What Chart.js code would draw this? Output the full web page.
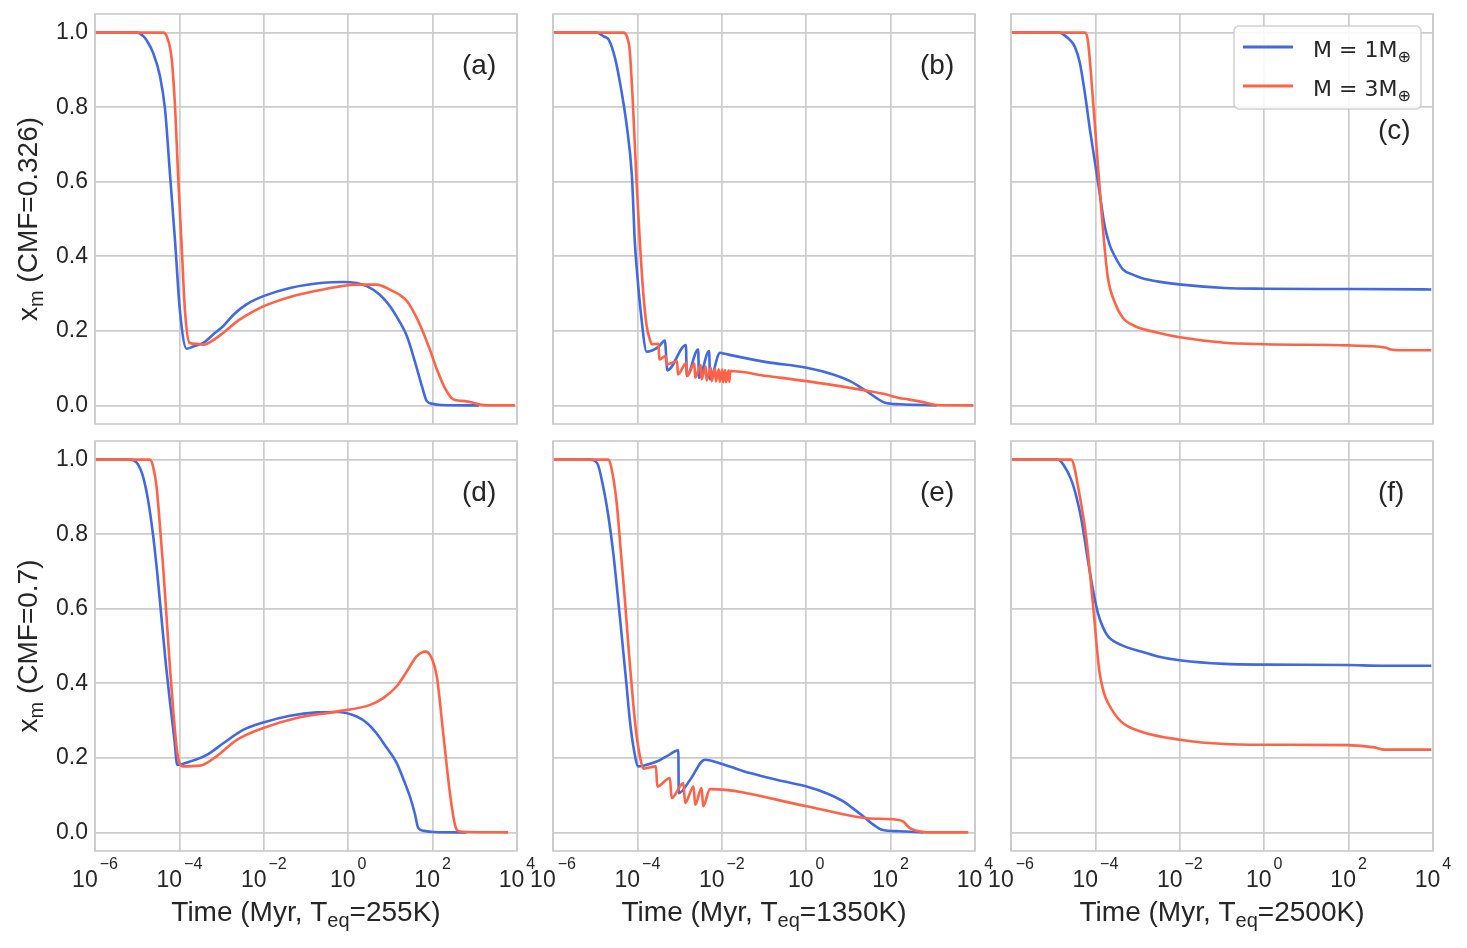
<!DOCTYPE html>
<html>
<head>
<meta charset="utf-8">
<title>Mantle fraction vs time</title>
<script src="https://cdn.jsdelivr.net/npm/chart.js@4.4.1/dist/chart.umd.min.js"></script>
<style>
  body { margin: 0; background: #fff; }
  #fig { position: relative; width: 1467px; height: 948px; overflow: hidden; }
  #fig canvas { position: absolute; }
</style>
</head>
<body>
<div id="fig"></div>
<script>
// Each series: [log10(time / Myr), x_m]
// (a) CMF=0.326, Teq=255K
const a1 = [[-6,1],[-5.0,1],[-4.85,0.99],[-4.78,0.98],[-4.62,0.945],[-4.46,0.883],[-4.34,0.794],[-4.22,0.615],[-4.1,0.436],[-3.99,0.257],[-3.83,0.152],[-3.67,0.158],[-3.43,0.168],[-3.2,0.19],[-2.96,0.213],[-2.7,0.245],[-2.41,0.271],[-2.01,0.293],[-1.38,0.315],[-0.59,0.329],[-0.12,0.331],[0.2,0.328],[0.44,0.32],[0.75,0.297],[0.99,0.266],[1.2,0.228],[1.39,0.186],[1.6,0.11],[1.75,0.05],[1.86,0.012],[2.0,0.004],[2.2,0.001],[3.1,0]];
const a3 = [[-6,1],[-4.38,1],[-4.3,0.99],[-4.18,0.927],[-4.1,0.794],[-4.03,0.615],[-3.95,0.436],[-3.87,0.257],[-3.76,0.168],[-3.6,0.165],[-3.43,0.163],[-3.2,0.175],[-2.96,0.195],[-2.6,0.228],[-2.17,0.257],[-1.8,0.275],[-1.38,0.291],[-0.59,0.311],[0.2,0.324],[0.67,0.324],[1.0,0.31],[1.2,0.298],[1.39,0.28],[1.6,0.24],[1.78,0.195],[1.95,0.145],[2.1,0.097],[2.3,0.045],[2.49,0.016],[2.7,0.012],[2.89,0.009],[3.12,0.002],[3.3,0],[3.95,0]];
// (b) CMF=0.326, Teq=1350K
const b1 = [[-6,1],[-4.96,1],[-4.8,0.99],[-4.68,0.981],[-4.52,0.927],[-4.37,0.838],[-4.25,0.748],[-4.13,0.615],[-4.06,0.436],[-4.0,0.347],[-3.92,0.25],[-3.78,0.144],[-3.5,0.157],[-3.35,0.174],[-3.29,0.094],[-2.85,0.162],[-2.83,0.079],[-2.56,0.150],[-2.54,0.074],[-2.30,0.146],[-2.28,0.07],[-2.04,0.141],[-1.96,0.139],[-0.94,0.116],[0.01,0.101],[0.64,0.083],[1.04,0.065],[1.43,0.038],[1.87,0.007],[2.22,0.003],[3.09,0]];
const b3 = [[-6,1],[-4.33,1],[-4.25,0.99],[-4.18,0.95],[-4.1,0.794],[-4.02,0.6],[-3.94,0.436],[-3.86,0.3],[-3.78,0.213],[-3.7,0.175],[-3.66,0.164],[-3.5,0.165],[-3.48,0.123],[-3.33,0.132],[-3.31,0.11],[-3.06,0.118],[-3.04,0.083],[-2.84,0.114],[-2.82,0.079],[-2.65,0.112],[-2.63,0.074],[-2.5,0.108],[-2.48,0.070],[-2.38,0.104],[-2.36,0.067],[-2.26,0.101],[-2.24,0.065],[-2.16,0.099],[-2.14,0.064],[-2.07,0.097],[-2.05,0.063],[-1.99,0.096],[-1.97,0.062],[-1.92,0.095],[-1.9,0.062],[-1.84,0.094],[-1.82,0.063],[-1.8,0.092],[-0.94,0.079],[0.01,0.065],[1.04,0.047],[1.5,0.038],[1.9,0.029],[2.2,0.02],[2.42,0.016],[2.8,0.008],[3.09,0.001],[3.96,0]];
// (c) CMF=0.326, Teq=2500K
const c1 = [[-6,1],[-4.85,1],[-4.7,0.99],[-4.6,0.98],[-4.49,0.963],[-4.37,0.92],[-4.25,0.838],[-4.13,0.74],[-4.02,0.659],[-3.9,0.57],[-3.78,0.481],[-3.66,0.43],[-3.54,0.40],[-3.35,0.365],[-3.1,0.35],[-2.91,0.342],[-2.5,0.332],[-1.96,0.324],[-0.94,0.315],[0.01,0.313],[2.0,0.312],[3.96,0.311]];
const c3 = [[-6,1],[-4.25,1],[-4.18,0.98],[-4.1,0.883],[-3.98,0.704],[-3.86,0.526],[-3.71,0.347],[-3.54,0.276],[-3.35,0.235],[-3.07,0.213],[-2.52,0.195],[-1.96,0.182],[-0.94,0.168],[0.01,0.164],[1.98,0.161],[2.5,0.159],[2.86,0.155],[3.0,0.15],[3.17,0.148],[3.96,0.148]];
// (d) CMF=0.7, Teq=255K
const d1 = [[-6,1],[-5.17,1],[-5.0,0.99],[-4.86,0.954],[-4.74,0.89],[-4.62,0.794],[-4.52,0.69],[-4.42,0.57],[-4.32,0.45],[-4.22,0.347],[-4.12,0.25],[-4.05,0.181],[-3.75,0.19],[-3.35,0.208],[-2.96,0.239],[-2.49,0.275],[-2.01,0.295],[-1.38,0.313],[-0.75,0.322],[-0.27,0.323],[0.2,0.311],[0.45,0.293],[0.67,0.266],[0.9,0.229],[1.15,0.186],[1.3,0.145],[1.46,0.097],[1.58,0.05],[1.66,0.012],[1.8,0.004],[2.02,0.001],[2.8,0]];
const d3 = [[-6,1],[-4.7,1],[-4.62,0.98],[-4.54,0.927],[-4.46,0.82],[-4.38,0.704],[-4.3,0.57],[-4.22,0.436],[-4.14,0.32],[-4.05,0.213],[-3.92,0.177],[-3.51,0.179],[-3.12,0.204],[-2.64,0.248],[-2.01,0.280],[-1.22,0.307],[-0.27,0.324],[0.52,0.342],[0.83,0.36],[1.15,0.392],[1.39,0.432],[1.62,0.472],[1.75,0.483],[1.82,0.485],[1.9,0.482],[1.98,0.467],[2.1,0.418],[2.26,0.257],[2.42,0.097],[2.54,0.016],[2.62,0.003],[2.81,0.001],[3.79,0]];
// (e) CMF=0.7, Teq=1350K
const e1 = [[-6,1],[-5.12,1],[-4.95,0.99],[-4.81,0.927],[-4.69,0.85],[-4.57,0.748],[-4.47,0.64],[-4.37,0.526],[-4.27,0.41],[-4.18,0.302],[-4.08,0.22],[-3.98,0.177],[-3.86,0.179],[-3.54,0.190],[-3.31,0.204],[-3.03,0.22],[-3.02,0.105],[-2.75,0.141],[-2.4,0.195],[-1.96,0.182],[-1.33,0.159],[-0.54,0.137],[0.01,0.123],[0.48,0.105],[0.88,0.083],[1.1,0.065],[1.35,0.043],[1.6,0.02],[1.79,0.007],[2.22,0.003],[2.78,0]];
const e3 = [[-6,1],[-4.69,1],[-4.62,0.98],[-4.49,0.883],[-4.39,0.75],[-4.29,0.615],[-4.2,0.48],[-4.1,0.347],[-4.02,0.26],[-3.94,0.204],[-3.86,0.171],[-3.56,0.177],[-3.53,0.123],[-3.23,0.146],[-3.19,0.092],[-2.91,0.132],[-2.87,0.079],[-2.67,0.123],[-2.63,0.074],[-2.48,0.119],[-2.44,0.070],[-2.28,0.116],[0.01,0.07],[1.43,0.038],[2.14,0.034],[2.3,0.029],[2.45,0.012],[2.62,0.004],[2.85,0],[3.84,0]];
// (f) CMF=0.7, Teq=2500K
const f1 = [[-6,1],[-4.89,1],[-4.75,0.985],[-4.57,0.945],[-4.45,0.9],[-4.33,0.838],[-4.14,0.704],[-4.04,0.64],[-3.94,0.588],[-3.82,0.55],[-3.70,0.526],[-3.39,0.503],[-2.91,0.485],[-2.52,0.472],[-1.96,0.461],[-0.94,0.452],[0.01,0.450],[1.98,0.449],[2.8,0.447],[3.96,0.447]];
const f3 = [[-6,1],[-4.57,1],[-4.5,0.98],[-4.41,0.927],[-4.22,0.794],[-4.06,0.615],[-3.91,0.436],[-3.80,0.375],[-3.70,0.347],[-3.39,0.297],[-2.91,0.270],[-1.96,0.248],[-0.94,0.237],[0.01,0.235],[1.98,0.234],[2.61,0.228],[2.85,0.222],[3.96,0.222]];

const xTickExps = [-6, -4, -2, 0, 2, 4];
const yTicks = [0.0, 0.2, 0.4, 0.6, 0.8, 1.0];
const tempLabels = ['255K', '1350K', '2500K'];
const cmfLabels = ['0.326', '0.7'];
const panelTags = ['(a)', '(b)', '(c)', '(d)', '(e)', '(f)'];
const massLabels = ['1', '3'];

const panelSeries = [[a1, a3], [b1, b3], [c1, c3], [d1, d3], [e1, e3], [f1, f3]];

// look
const lineColors = ['#4169e1', '#ff6347'];
const gridColor = '#cccccc';
const textColor = '#262626';
const SANS = "'Liberation Sans', Arial, sans-serif";
const DEJAVU = "'DejaVu Sans', sans-serif";

// layout (page pixels)
const colLeft = [95, 553, 1011];
const rowTop = [14, 441];
const plotW = 422, plotH = 410;
const padL = 95, padT = 14, padR = 30;

Chart.defaults.font.family = SANS;
Chart.defaults.color = textColor;

// draw a run of text pieces (for sub/superscripts)
function drawRich(ctx, parts, x, y, align) {
    let total = 0;
    parts.forEach(p => {
        ctx.font = p.size + 'px ' + (p.family || SANS);
        p.w = ctx.measureText(p.text).width;
        total += p.w + (p.gap || 0);
    });
    let cx = align === 'center' ? x - total / 2 : x;
    ctx.textAlign = 'left';
    ctx.textBaseline = 'alphabetic';
    parts.forEach(p => {
        ctx.font = p.size + 'px ' + (p.family || SANS);
        cx += (p.gap || 0);
        ctx.fillText(p.text, cx, y + (p.dy || 0));
        cx += p.w;
    });
}

function decorPlugin(idx) {
    const row = Math.floor(idx / 3), col = idx % 3;
    return {
        id: 'decor' + idx,
        afterDatasetsDraw(chart) {
            const { ctx, chartArea: a } = chart;
            ctx.save();
            ctx.strokeStyle = gridColor;
            ctx.lineWidth = 1.7;
            ctx.strokeRect(a.left, a.top, a.right - a.left, a.bottom - a.top);
            ctx.restore();
        },
        afterDraw(chart) {
            const { ctx, chartArea: a } = chart;
            const xs = chart.scales.x;
            ctx.save();
            ctx.fillStyle = textColor;

            // x tick labels + x title on the bottom row
            if (row === 1) {
                xTickExps.forEach(e => {
                    const px = xs.getPixelForValue(Math.pow(10, e));
                    const ex = e < 0 ? '\u2212' + Math.abs(e) : String(e);
                    drawRich(ctx, [
                        { text: '10', size: 23 },
                        { text: ex, size: 16, dy: -18, gap: 2 }
                    ], px, a.bottom + 36, 'center');
                });
                drawRich(ctx, [
                    { text: 'Time (Myr, T', size: 28 },
                    { text: 'eq', size: 20, dy: 6 },
                    { text: '=' + tempLabels[col] + ')', size: 28 }
                ], (a.left + a.right) / 2, a.bottom + 70, 'center');
            }

            // y title on the left column
            if (col === 0) {
                ctx.save();
                ctx.translate(a.left - 58, (a.top + a.bottom) / 2);
                ctx.rotate(-Math.PI / 2);
                drawRich(ctx, [
                    { text: 'x', size: 28 },
                    { text: 'm', size: 20, dy: 6 },
                    { text: ' (CMF=' + cmfLabels[row] + ')', size: 28 }
                ], 0, 0, 'center');
                ctx.restore();
            }

            // panel tag
            const tagY = idx === 2 ? a.top + 125 : a.top + 60;
            drawRich(ctx, [{ text: panelTags[idx], size: 28 }], a.left + 367, tagY, 'left');

            // legend in panel (c)
            if (idx === 2) {
                const bx = a.left + 223, by = a.top + 12, bw = 187, bh = 83;
                ctx.beginPath();
                ctx.roundRect(bx, by, bw, bh, 5);
                ctx.fillStyle = 'rgba(255,255,255,0.85)';
                ctx.fill();
                ctx.strokeStyle = 'rgba(204,204,204,0.9)';
                ctx.lineWidth = 1.5;
                ctx.stroke();
                chart.data.datasets.forEach((ds, k) => {
                    const ly = by + 21 + k * 39;
                    ctx.beginPath();
                    ctx.moveTo(bx + 9, ly);
                    ctx.lineTo(bx + 59, ly);
                    ctx.strokeStyle = ds.borderColor;
                    ctx.lineWidth = 3;
                    ctx.stroke();
                    ctx.fillStyle = textColor;
                    drawRich(ctx, [
                        { text: 'M = ' + massLabels[k] + 'M', size: 22, family: DEJAVU },
                        { text: '\u2295', size: 16, family: DEJAVU, dy: 5 }
                    ], bx + 79, ly + 9.5, 'left');
                });
            }
            ctx.restore();
        }
    };
}

const fig = document.getElementById('fig');

panelSeries.forEach((series, idx) => {
    const row = Math.floor(idx / 3), col = idx % 3;
    const cLeft = colLeft[col] - padL;
    const cTop = rowTop[row] - padT;
    const cW = padL + plotW + padR;
    const cH = row === 0 ? padT + plotH + 14 : 948 - cTop;
    const xAxisH = cH - padT - plotH;

    const canvas = document.createElement('canvas');
    canvas.width = cW;
    canvas.height = cH;
    canvas.style.left = cLeft + 'px';
    canvas.style.top = cTop + 'px';
    fig.appendChild(canvas);

    new Chart(canvas.getContext('2d'), {
        type: 'line',
        data: {
            datasets: series.map((s, k) => ({
                label: 'M = ' + massLabels[k] + 'M\u2295',
                data: s.map(p => ({ x: Math.pow(10, p[0]), y: p[1] })),
                borderColor: lineColors[k],
                backgroundColor: lineColors[k],
                borderWidth: 2.6,
                borderJoinStyle: 'round',
                pointRadius: 0,
                fill: false,
                cubicInterpolationMode: 'monotone',
                order: 1 - k
            }))
        },
        options: {
            responsive: false,
            animation: false,
            events: [],
            layout: { padding: { left: 0, top: padT, right: padR, bottom: 0 } },
            plugins: { legend: { display: false }, tooltip: { enabled: false } },
            scales: {
                x: {
                    type: 'logarithmic',
                    min: 1e-6,
                    max: 1e4,
                    afterBuildTicks: s => { s.ticks = xTickExps.map(e => ({ value: Math.pow(10, e) })); },
                    afterFit: s => { s.height = xAxisH; s.paddingLeft = 0; s.paddingRight = 0; },
                    ticks: { display: false },
                    grid: { color: gridColor, lineWidth: 1.7, drawTicks: false },
                    border: { display: false }
                },
                y: {
                    type: 'linear',
                    min: -0.05,
                    max: 1.05,
                    afterBuildTicks: s => { s.ticks = yTicks.map(v => ({ value: v })); },
                    // fixed axis width; the tick labels sit inside the margins already
                    afterFit: s => { s.width = padL; s.paddingTop = 0; s.paddingBottom = 0; },
                    ticks: {
                        display: col === 0,
                        padding: 7,
                        color: textColor,
                        font: { family: SANS, size: 23, lineHeight: 1 },
                        callback: v => v.toFixed(1)
                    },
                    grid: { color: gridColor, lineWidth: 1.7, drawTicks: false },
                    border: { display: false }
                }
            }
        },
        plugins: [decorPlugin(idx)]
    });
});
</script>
</body>
</html>
